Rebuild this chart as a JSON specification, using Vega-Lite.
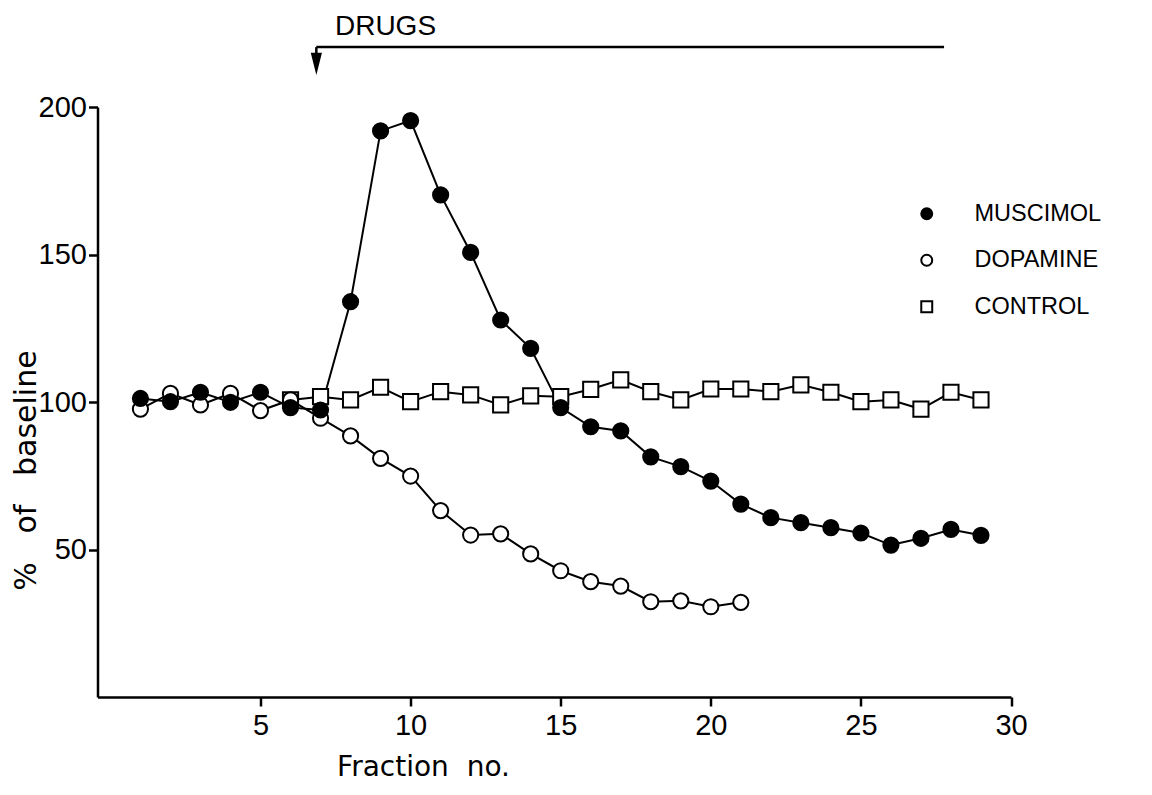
{
  "$schema": "https://vega.github.io/schema/vega-lite/v6.json",
  "width": 913.5,
  "height": 590,
  "autosize": {"type": "none"},
  "padding": {"left": 97.5, "top": 107, "right": 141, "bottom": 98},
  "background": "white",
  "config": {
    "view": {"stroke": null},
    "font": "Liberation Sans",
    "axis": {
      "domainColor": "black", "domainWidth": 2.5,
      "tickColor": "black", "tickWidth": 2.5, "tickSize": 9,
      "labelFont": "Liberation Sans", "labelFontSize": 29, "labelColor": "black",
      "labelFlush": false,
      "grid": false,
      "titleFont": "DejaVu Sans", "titleFontSize": 28, "titleFontWeight": "normal", "titleColor": "black"
    }
  },
  "datasets": {
    "series": [
      {"fraction": 6, "percent": 100.7, "group": "CONTROL"},
      {"fraction": 7, "percent": 101.8, "group": "CONTROL"},
      {"fraction": 8, "percent": 100.7, "group": "CONTROL"},
      {"fraction": 9, "percent": 105.0, "group": "CONTROL"},
      {"fraction": 10, "percent": 100.1, "group": "CONTROL"},
      {"fraction": 11, "percent": 103.5, "group": "CONTROL"},
      {"fraction": 12, "percent": 102.4, "group": "CONTROL"},
      {"fraction": 13, "percent": 99.0, "group": "CONTROL"},
      {"fraction": 14, "percent": 102.1, "group": "CONTROL"},
      {"fraction": 15, "percent": 101.8, "group": "CONTROL"},
      {"fraction": 16, "percent": 104.3, "group": "CONTROL"},
      {"fraction": 17, "percent": 107.5, "group": "CONTROL"},
      {"fraction": 18, "percent": 103.5, "group": "CONTROL"},
      {"fraction": 19, "percent": 100.7, "group": "CONTROL"},
      {"fraction": 20, "percent": 104.4, "group": "CONTROL"},
      {"fraction": 21, "percent": 104.4, "group": "CONTROL"},
      {"fraction": 22, "percent": 103.5, "group": "CONTROL"},
      {"fraction": 23, "percent": 105.8, "group": "CONTROL"},
      {"fraction": 24, "percent": 103.3, "group": "CONTROL"},
      {"fraction": 25, "percent": 100.1, "group": "CONTROL"},
      {"fraction": 26, "percent": 100.7, "group": "CONTROL"},
      {"fraction": 27, "percent": 97.6, "group": "CONTROL"},
      {"fraction": 28, "percent": 103.3, "group": "CONTROL"},
      {"fraction": 29, "percent": 100.7, "group": "CONTROL"},
      {"fraction": 1, "percent": 97.6, "group": "DOPAMINE"},
      {"fraction": 2, "percent": 102.9, "group": "DOPAMINE"},
      {"fraction": 3, "percent": 99.0, "group": "DOPAMINE"},
      {"fraction": 4, "percent": 102.9, "group": "DOPAMINE"},
      {"fraction": 5, "percent": 97.1, "group": "DOPAMINE"},
      {"fraction": 6, "percent": 100.7, "group": "DOPAMINE"},
      {"fraction": 7, "percent": 94.5, "group": "DOPAMINE"},
      {"fraction": 8, "percent": 88.5, "group": "DOPAMINE"},
      {"fraction": 9, "percent": 80.9, "group": "DOPAMINE"},
      {"fraction": 10, "percent": 74.9, "group": "DOPAMINE"},
      {"fraction": 11, "percent": 63.2, "group": "DOPAMINE"},
      {"fraction": 12, "percent": 54.9, "group": "DOPAMINE"},
      {"fraction": 13, "percent": 55.3, "group": "DOPAMINE"},
      {"fraction": 14, "percent": 48.5, "group": "DOPAMINE"},
      {"fraction": 15, "percent": 42.8, "group": "DOPAMINE"},
      {"fraction": 16, "percent": 39.1, "group": "DOPAMINE"},
      {"fraction": 17, "percent": 37.6, "group": "DOPAMINE"},
      {"fraction": 18, "percent": 32.3, "group": "DOPAMINE"},
      {"fraction": 19, "percent": 32.6, "group": "DOPAMINE"},
      {"fraction": 20, "percent": 30.6, "group": "DOPAMINE"},
      {"fraction": 21, "percent": 32.1, "group": "DOPAMINE"},
      {"fraction": 1, "percent": 101.2, "group": "MUSCIMOL"},
      {"fraction": 2, "percent": 100.1, "group": "MUSCIMOL"},
      {"fraction": 3, "percent": 103.3, "group": "MUSCIMOL"},
      {"fraction": 4, "percent": 99.9, "group": "MUSCIMOL"},
      {"fraction": 5, "percent": 103.3, "group": "MUSCIMOL"},
      {"fraction": 6, "percent": 98.1, "group": "MUSCIMOL"},
      {"fraction": 7, "percent": 97.3, "group": "MUSCIMOL"},
      {"fraction": 8, "percent": 134.0, "group": "MUSCIMOL"},
      {"fraction": 9, "percent": 191.9, "group": "MUSCIMOL"},
      {"fraction": 10, "percent": 195.4, "group": "MUSCIMOL"},
      {"fraction": 11, "percent": 170.2, "group": "MUSCIMOL"},
      {"fraction": 12, "percent": 150.7, "group": "MUSCIMOL"},
      {"fraction": 13, "percent": 127.8, "group": "MUSCIMOL"},
      {"fraction": 14, "percent": 118.2, "group": "MUSCIMOL"},
      {"fraction": 15, "percent": 98.1, "group": "MUSCIMOL"},
      {"fraction": 16, "percent": 91.6, "group": "MUSCIMOL"},
      {"fraction": 17, "percent": 90.2, "group": "MUSCIMOL"},
      {"fraction": 18, "percent": 81.4, "group": "MUSCIMOL"},
      {"fraction": 19, "percent": 78.1, "group": "MUSCIMOL"},
      {"fraction": 20, "percent": 73.2, "group": "MUSCIMOL"},
      {"fraction": 21, "percent": 65.4, "group": "MUSCIMOL"},
      {"fraction": 22, "percent": 60.8, "group": "MUSCIMOL"},
      {"fraction": 23, "percent": 59.1, "group": "MUSCIMOL"},
      {"fraction": 24, "percent": 57.4, "group": "MUSCIMOL"},
      {"fraction": 25, "percent": 55.6, "group": "MUSCIMOL"},
      {"fraction": 26, "percent": 51.5, "group": "MUSCIMOL"},
      {"fraction": 27, "percent": 53.8, "group": "MUSCIMOL"},
      {"fraction": 28, "percent": 56.8, "group": "MUSCIMOL"},
      {"fraction": 29, "percent": 54.8, "group": "MUSCIMOL"}
    ],
    "drugs": [
      {"start": 6.86, "end": 27.77, "level": 220.3, "head": 214.6, "label": "DRUGS", "labelAt": 7.48, "labelLevel": 224.4}
    ]
  },
  "layer": [
    {
      "data": {"name": "series"},
      "mark": {"type": "line", "color": "black", "strokeWidth": 2},
      "encoding": {
        "x": {"field": "fraction", "type": "quantitative",
              "scale": {"domain": [-0.43, 30], "nice": false, "zero": false},
              "axis": {"values": [5, 10, 15, 20, 25, 30], "labelPadding": 5,
                       "title": "Fraction\u00a0\u00a0no.", "titleX": 325.5, "titleY": 78,
                       "titleAlign": "center", "titleBaseline": "alphabetic"}},
        "y": {"field": "percent", "type": "quantitative",
              "scale": {"domain": [0, 200], "nice": false},
              "axis": {"values": [50, 100, 150, 200], "labelPadding": 2,
                       "title": "%\u00a0\u00a0\u00a0of\u00a0\u00a0\u00a0baseline", "titleFontSize": 30,
                       "titleX": -62.5, "titleY": 363,
                       "titleAlign": "center", "titleBaseline": "alphabetic", "titleAngle": 270}},
        "detail": {"field": "group", "type": "nominal"}
      }
    },
    {
      "data": {"name": "series"},
      "mark": {"type": "point", "stroke": "black", "strokeWidth": 2, "size": 230, "opacity": 1, "fillOpacity": 1},
      "encoding": {
        "x": {"field": "fraction", "type": "quantitative"},
        "y": {"field": "percent", "type": "quantitative"},
        "shape": {"field": "group", "type": "nominal",
                  "scale": {"domain": ["MUSCIMOL", "DOPAMINE", "CONTROL"], "range": ["circle", "circle", "square"]},
                  "legend": {"title": null, "orient": "none", "legendX": 817.5, "legendY": 95,
                             "labelFontSize": 23.5, "labelFont": "Liberation Sans", "labelColor": "black",
                             "symbolSize": 120, "symbolStrokeWidth": 2,
                             "rowPadding": 21.5, "labelOffset": 36, "padding": 0,
                             "encode": {"symbols": {"stroke": {"value": "black"}, "strokeWidth": {"value": 2}, "opacity": {"value": 1}}}}},
        "fill": {"field": "group", "type": "nominal",
                 "scale": {"domain": ["MUSCIMOL", "DOPAMINE", "CONTROL"], "range": ["black", "white", "white"]},
                 "legend": {"title": null, "orient": "none", "legendX": 817.5, "legendY": 95,
                            "labelFontSize": 23.5, "labelFont": "Liberation Sans", "labelColor": "black",
                            "symbolSize": 120, "symbolStrokeWidth": 2,
                            "rowPadding": 21.5, "labelOffset": 36, "padding": 0,
                            "encode": {"symbols": {"stroke": {"value": "black"}, "strokeWidth": {"value": 2}, "opacity": {"value": 1}}}}}
      }
    },
    {
      "data": {"name": "drugs"},
      "mark": {"type": "rule", "color": "black", "strokeWidth": 2.5},
      "encoding": {
        "x": {"field": "start", "type": "quantitative"},
        "x2": {"field": "end"},
        "y": {"field": "level", "type": "quantitative"}
      }
    },
    {
      "data": {"name": "drugs"},
      "mark": {"type": "rule", "color": "black", "strokeWidth": 2.5},
      "encoding": {
        "x": {"field": "start", "type": "quantitative"},
        "y": {"field": "level", "type": "quantitative"},
        "y2": {"field": "head"}
      }
    },
    {
      "data": {"name": "drugs"},
      "mark": {"type": "point", "shape": "M-0.5,-1L0.5,-1L0,1Z", "size": 500, "filled": true, "color": "black", "opacity": 1},
      "encoding": {
        "x": {"field": "start", "type": "quantitative"},
        "y": {"field": "head", "type": "quantitative"}
      }
    },
    {
      "data": {"name": "drugs"},
      "mark": {"type": "text", "fontSize": 28, "font": "Liberation Sans", "align": "left", "baseline": "alphabetic", "color": "black"},
      "encoding": {
        "x": {"field": "labelAt", "type": "quantitative"},
        "y": {"field": "labelLevel", "type": "quantitative"},
        "text": {"field": "label"}
      }
    }
  ]
}
